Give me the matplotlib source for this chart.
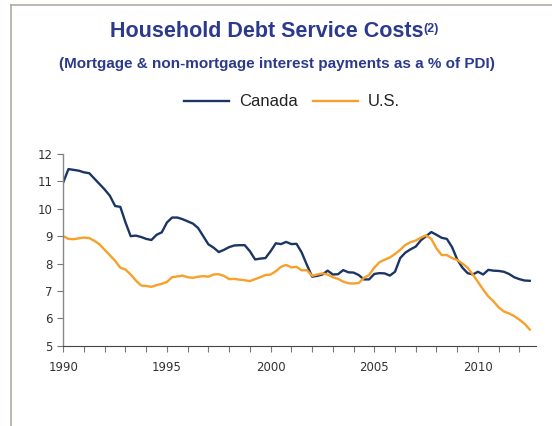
import numpy as np
import matplotlib
matplotlib.use("Agg")
import matplotlib.pyplot as plt
from matplotlib.lines import Line2D

# quarterly data, 1990Q1 - 2012Q3 (% of personal disposable income)
canada = [10.97, 11.45, 11.42, 11.39, 11.33, 11.30, 11.10, 10.90, 10.70, 10.47,
          10.10, 10.07, 9.50, 9.00, 9.02, 8.97, 8.90, 8.86, 9.05, 9.14,
          9.50, 9.68, 9.68, 9.62, 9.54, 9.46, 9.30, 9.00, 8.70, 8.58,
          8.42, 8.50, 8.60, 8.66, 8.67, 8.67, 8.45, 8.15, 8.18, 8.20,
          8.45, 8.74, 8.71, 8.79, 8.71, 8.72, 8.40, 7.95, 7.52, 7.55,
          7.60, 7.74, 7.60, 7.61, 7.76, 7.68, 7.67, 7.58, 7.42, 7.42,
          7.62, 7.65, 7.64, 7.56, 7.70, 8.20, 8.40, 8.52, 8.62, 8.85,
          9.00, 9.15, 9.05, 8.94, 8.90, 8.60, 8.15, 7.85, 7.65, 7.60,
          7.70, 7.60, 7.77, 7.74, 7.73, 7.70, 7.62, 7.50, 7.43, 7.38,
          7.37]
us = [9.00, 8.90, 8.89, 8.92, 8.95, 8.93, 8.83, 8.70, 8.50, 8.30,
      8.10, 7.85, 7.78, 7.60, 7.38, 7.20, 7.18, 7.15, 7.21, 7.26,
      7.33, 7.50, 7.53, 7.56, 7.50, 7.48, 7.52, 7.54, 7.52, 7.60,
      7.61, 7.55, 7.43, 7.44, 7.41, 7.39, 7.36, 7.43, 7.50, 7.58,
      7.60, 7.72, 7.88, 7.95, 7.86, 7.88, 7.75, 7.76, 7.55, 7.60,
      7.64, 7.60, 7.50, 7.44, 7.34, 7.28, 7.27, 7.29, 7.48, 7.58,
      7.85, 8.05, 8.14, 8.22, 8.35, 8.50, 8.68, 8.78, 8.84, 8.95,
      9.03, 8.90, 8.55, 8.31, 8.31, 8.20, 8.13, 8.00, 7.85, 7.60,
      7.33, 7.05, 6.80, 6.62, 6.40, 6.25, 6.18, 6.08, 5.95, 5.80,
      5.59]
start_year = 1990
year_labels = [1990, 1995, 2000, 2005, 2010]

dates = start_year + np.arange(len(canada)) / 4.0

navy = "#1B3664"
orange = "#F7A02A"
title_col = "#2B3A8C"

fig = plt.figure(figsize=(5.52, 4.26), dpi=100)
ax = fig.add_axes([63.3/552, 1-345.7/426, (536-63.3)/552, (345.7-154)/426])

ax.plot(dates, canada, color=navy, lw=1.7, label="Canada")
ax.plot(dates, us, color=orange, lw=1.7, label="U.S.")

ax.set_xlim(1990, 2012.8)
ax.set_ylim(5, 12)
ax.set_yticks(range(5, 13))
ax.set_xticks(year_labels)
ax.set_xticks(range(1990, 2013), minor=True)
ax.tick_params(axis="both", which="both", direction="out", length=4,
               width=0.8, colors="#777777", labelcolor="#333333",
               labelsize=8.5)
ax.tick_params(axis="x", which="major", pad=7)
for s in ["top", "right"]:
    ax.spines[s].set_visible(False)
ax.spines["left"].set_color("#888888")
ax.spines["bottom"].set_color("#444444")
ax.spines["left"].set_linewidth(1.0)
ax.spines["bottom"].set_linewidth(0.8)

# titles
fig.text(267/552, 1-37/426, "Household Debt Service Costs", ha="center",
         va="baseline", fontsize=15.5, fontweight="bold", color=title_col,
         family="Liberation Sans")
fig.text(423/552, 1-32/426, "(2)", ha="left", va="baseline", fontsize=9,
         fontweight="bold", color=title_col, family="Liberation Sans")
fig.text(277/552, 1-68/426,
         "(Mortgage & non-mortgage interest payments as a % of PDI)",
         ha="center", va="baseline", fontsize=11, fontweight="bold",
         color=title_col, family="Liberation Sans")

fig.legend(loc="center", bbox_to_anchor=(292/552, 1-102/426), ncol=2,
           frameon=False, prop={"family": "Liberation Sans", "size": 12},
           handlelength=2.7, handletextpad=0.6, columnspacing=0.9,
           labelcolor="#222222")

# frame border of the slide
border = "#B0AAA3"
fig.add_artist(Line2D([11/552, 11/552], [0, 1-5/426], color=border, lw=1.2))
fig.add_artist(Line2D([11/552, 1], [1-5/426, 1-5/426], color=border, lw=1.2))

fig.savefig("out.png", dpi=100)
